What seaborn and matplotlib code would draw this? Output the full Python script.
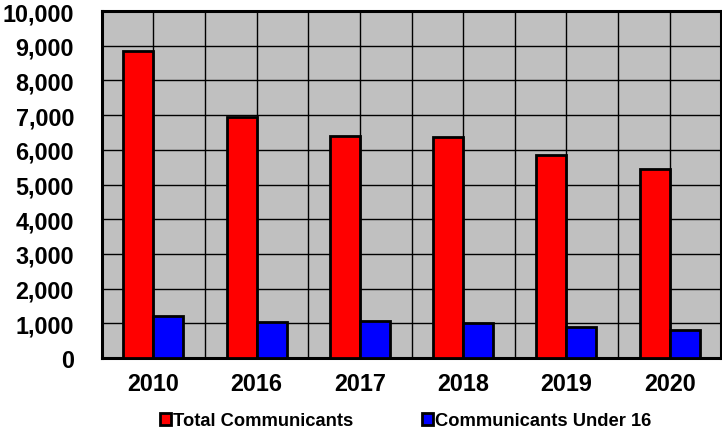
import numpy as np
import pandas as pd
import matplotlib
matplotlib.use('Agg')
import matplotlib.pyplot as plt
import seaborn as sns
from matplotlib.ticker import MultipleLocator, FuncFormatter

# ── Data ─────────────────────────────────────────────────────────────────────
YEARS       = ['2010', '2016', '2017', '2018', '2019', '2020']
TOTAL       = [8840, 6950, 6400, 6370, 5850, 5450]
UNDER_16    = [1200, 1030, 1080, 1010, 900, 800]
SERIES      = ['Total Communicants', 'Communicants Under 16']
COLORS      = ['#FF0000', '#0000FF']

df = pd.DataFrame({
    'year':   YEARS * 2,
    'value':  TOTAL + UNDER_16,
    'series': [SERIES[0]] * len(YEARS) + [SERIES[1]] * len(YEARS),
})

# ── Plot ─────────────────────────────────────────────────────────────────────
sns.set_style('white')
plt.rcParams['font.family'] = ['Liberation Sans', 'DejaVu Sans']
plt.rcParams['font.weight'] = 'bold'
plt.rcParams['text.color'] = 'black'
plt.rcParams['xtick.color'] = 'black'
plt.rcParams['ytick.color'] = 'black'

fig = plt.figure(figsize=(7.22, 4.31), dpi=100)
ax = fig.add_axes([0.141, 0.167, 0.858, 0.805])
ax.set_facecolor('#C0C0C0')

sns.barplot(data=df, x='year', y='value', hue='series', order=YEARS,
            hue_order=SERIES, palette=COLORS, width=0.58, ax=ax,
            edgecolor='black', linewidth=2, saturation=1, zorder=3)

ax.set_xlim(-0.5, len(YEARS) - 0.5)
ax.set_ylim(0, 10000)
ax.yaxis.set_major_locator(MultipleLocator(1000))
ax.yaxis.set_major_formatter(FuncFormatter(lambda v, p: f'{int(v):,}'))
ax.xaxis.set_minor_locator(MultipleLocator(0.5))
ax.grid(True, which='both', axis='x', color='black', lw=1, zorder=1)
ax.grid(True, which='major', axis='y', color='black', lw=1, zorder=1)
ax.set_axisbelow(True)

ax.tick_params(axis='both', which='both', length=0, labelsize=16.8,
               labelcolor='black')
ax.tick_params(axis='x', pad=10)
ax.tick_params(axis='y', pad=20)
for lab in ax.get_xticklabels() + ax.get_yticklabels():
    lab.set_fontweight('bold')
ax.set_xlabel('')
ax.set_ylabel('')

for side in ['left', 'bottom', 'top', 'right']:
    ax.spines[side].set_visible(True)
    ax.spines[side].set_color('black')
    ax.spines[side].set_linewidth(2.2)

handles, labels = ax.get_legend_handles_labels()
ax.get_legend().remove()
fig.legend(handles, labels, loc='center', bbox_to_anchor=(0.562, 0.021),
           ncol=2, frameon=False, handlelength=0.57, handleheight=0.57,
           handletextpad=0.12, columnspacing=3.75, labelcolor='black',
           prop={'size': 13.2, 'weight': 'bold'})

plt.savefig('out.png', dpi=100)
plt.close()
